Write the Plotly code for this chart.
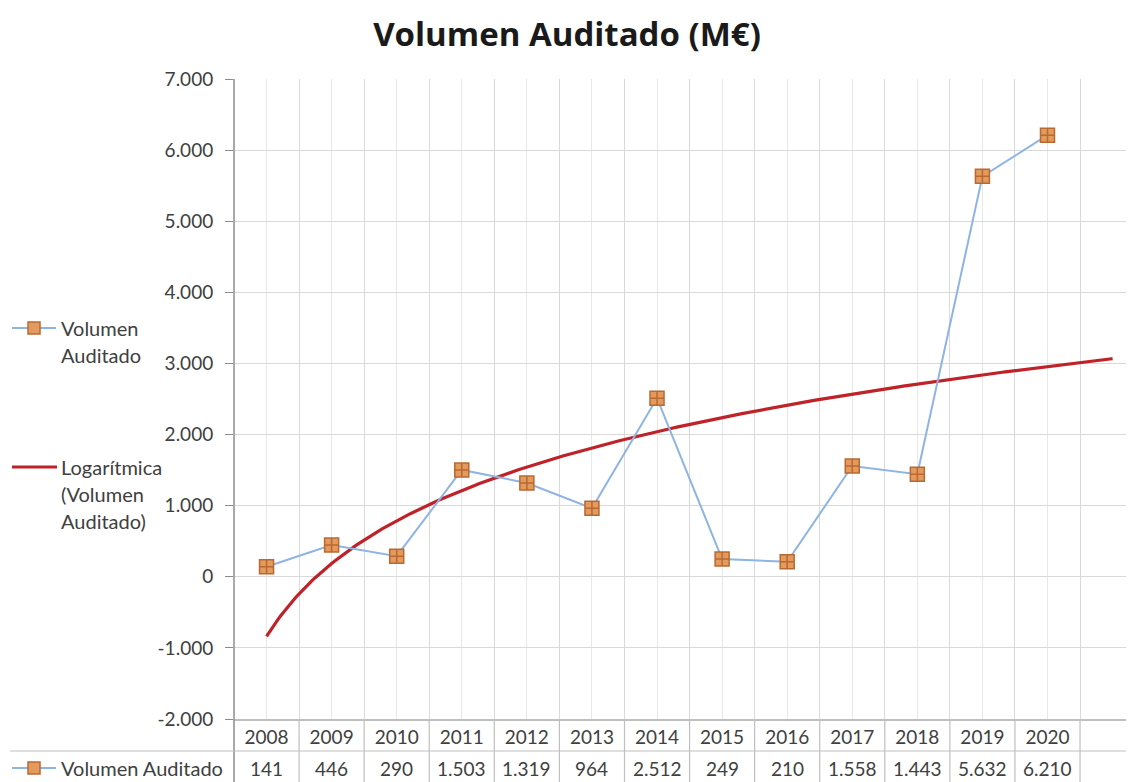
import numpy as np
import plotly.graph_objects as go

# ---- data ----
YEARS = ["2008", "2009", "2010", "2011", "2012", "2013", "2014",
         "2015", "2016", "2017", "2018", "2019", "2020"]
VOLUMEN = [141, 446, 290, 1503, 1319, 964, 2512, 249, 210, 1558, 1443, 5632, 6210]
VALUE_LABELS = ["141", "446", "290", "1.503", "1.319", "964", "2.512",
                "249", "210", "1.558", "1.443", "5.632", "6.210"]
Y_TICKS = [-2000, -1000, 0, 1000, 2000, 3000, 4000, 5000, 6000, 7000]
Y_TICK_LABELS = ["-2.000", "-1.000", "0", "1.000", "2.000", "3.000",
                 "4.000", "5.000", "6.000", "7.000"]
N_CATS = 14  # 13 years + one empty category the trendline reaches

TITLE = "Volumen Auditado (M€)"
SERIES_NAME = "Volumen Auditado"
LEGEND_1 = ["Volumen", "Auditado"]
LEGEND_2 = ["Logarítmica", "(Volumen", "Auditado)"]

# ---- layout constants (pixels, in screenshot coordinates) ----
OFF = 8                      # default page body margin
SCR_W, SCR_H = 1134, 782
FIG_W, FIG_H = SCR_W - OFF, SCR_H - OFF
PL, PT, PW, PH = 234 - OFF, 79 - OFF, 900, 640   # plot area
CAT_W = 65.08
X_RANGE = [0.5, 0.5 + PW / CAT_W]

FONT = "Lato, 'Open Sans', sans-serif"
TITLE_FONT = "'Open Sans', Lato, sans-serif"
TXT = "#404040"
GRID = "#d9d9d9"
TABLE_LINE = "#bfbfbf"
AXIS_LINE = "#8c8c8c"
LINE_BLUE = "#8eb4e3"
MK_FILL = "#e39a5f"
MK_EDGE = "#b9692f"
TREND_RED = "#bf2228"


def px_x(p):
    """screenshot pixel x -> paper x"""
    return (p - OFF - PL) / PW


def px_y(p):
    """screenshot pixel y -> paper y"""
    return (PT + PH - (p - OFF)) / PH


x_idx = np.arange(1, len(VOLUMEN) + 1)

# Excel-style logarithmic trendline fitted to the series
a, b = np.polyfit(np.log(x_idx), np.array(VOLUMEN, dtype=float), 1)
xt = np.linspace(1, N_CATS, 300)
yt = a * np.log(xt) + b

fig = go.Figure()
fig.add_trace(go.Scatter(
    x=xt, y=yt, mode="lines", name="Logarítmica (Volumen Auditado)",
    line=dict(color=TREND_RED, width=3.2), showlegend=False, hoverinfo="skip"))
fig.add_trace(go.Scatter(
    x=x_idx, y=VOLUMEN, mode="lines+markers", name=SERIES_NAME,
    line=dict(color=LINE_BLUE, width=2),
    marker=dict(symbol="square-cross", size=14, color=MK_FILL,
                line=dict(color=MK_EDGE, width=1.5)),
    showlegend=False))

shapes = []
annotations = []

# y-axis line extended through the data table
shapes.append(dict(type="line", xref="paper", yref="paper",
                   x0=0, x1=0, y0=px_y(SCR_H), y1=1,
                   line=dict(color=AXIS_LINE, width=1.5)))
# table row separator
shapes.append(dict(type="line", xref="paper", yref="paper",
                   x0=px_x(10), x1=px_x(SCR_W), y0=px_y(751), y1=px_y(751),
                   line=dict(color=TABLE_LINE, width=1.2)))
# table column separators
for k in range(len(YEARS)):
    xb = k + 1.5
    shapes.append(dict(type="line", xref="x", yref="paper",
                       x0=xb, x1=xb, y0=px_y(SCR_H), y1=0,
                       line=dict(color=TABLE_LINE, width=1.2)))

# values row
for xi, lab in zip(x_idx, VALUE_LABELS):
    annotations.append(dict(x=xi, y=px_y(768), xref="x", yref="paper",
                            text=lab, showarrow=False,
                            font=dict(family=FONT, size=19, color=TXT),
                            xanchor="center", yanchor="middle"))
annotations.append(dict(x=px_x(59), y=px_y(768), xref="paper", yref="paper",
                        text=SERIES_NAME, showarrow=False,
                        font=dict(family=FONT, size=20, color=TXT),
                        xanchor="left", yanchor="middle"))

# legend (drawn manually, left side)
legend_lines = list(zip([328, 355], LEGEND_1)) + list(zip([467, 494, 521], LEGEND_2))
for yy, t in legend_lines:
    annotations.append(dict(x=px_x(59), y=px_y(yy), xref="paper", yref="paper",
                            text=t, showarrow=False,
                            font=dict(family=FONT, size=20, color=TXT),
                            xanchor="left", yanchor="middle"))

# legend symbols: series (line + marker) at y=328 and table row, trend at y=467
for yy in (328, 768):
    shapes.append(dict(type="line", xref="paper", yref="paper",
                       x0=px_x(12), x1=px_x(56), y0=px_y(yy), y1=px_y(yy),
                       line=dict(color=LINE_BLUE, width=2)))
    shapes.append(dict(type="rect", xref="paper", yref="paper",
                       x0=px_x(28), x1=px_x(40), y0=px_y(yy + 6), y1=px_y(yy - 6),
                       fillcolor=MK_FILL, line=dict(color=MK_EDGE, width=1.5)))
shapes.append(dict(type="line", xref="paper", yref="paper",
                   x0=px_x(12), x1=px_x(57), y0=px_y(467), y1=px_y(467),
                   line=dict(color=TREND_RED, width=3)))

fig.update_layout(
    width=FIG_W, height=FIG_H,
    margin=dict(l=PL, r=FIG_W - PL - PW, t=PT, b=FIG_H - PT - PH, pad=0),
    paper_bgcolor="white", plot_bgcolor="white",
    title=dict(text="<b>" + TITLE + "</b>", x=(567 - OFF) / FIG_W, xref="container",
               xanchor="center", y=1 - (34 - OFF) / FIG_H, yanchor="middle",
               font=dict(family=TITLE_FONT, size=33, color="#1a1a1a")),
    font=dict(family=FONT, size=19, color=TXT),
    showlegend=False,
    shapes=shapes,
    annotations=annotations,
    xaxis=dict(range=X_RANGE, tickmode="array",
               tickvals=list(x_idx), ticktext=YEARS,
               ticks="", ticklabelstandoff=0,
               tickfont=dict(family=FONT, size=19, color=TXT),
               showgrid=True, gridcolor="#e8e8e8", gridwidth=1,
               minor=dict(tick0=0.5, dtick=1, showgrid=True,
                          gridcolor=GRID, gridwidth=1),
               showline=True, linecolor=TABLE_LINE, linewidth=1.5,
               zeroline=False, fixedrange=True),
    yaxis=dict(range=[-2000, 7000], tickmode="array",
               tickvals=Y_TICKS, ticktext=Y_TICK_LABELS,
               ticks="outside", ticklen=8, tickcolor=AXIS_LINE,
               ticklabelstandoff=8,
               tickfont=dict(family=FONT, size=19, color=TXT),
               showgrid=True, gridcolor=GRID, gridwidth=1.2,
               showline=False, zeroline=False, fixedrange=True),
)

fig.write_html("out.html")
